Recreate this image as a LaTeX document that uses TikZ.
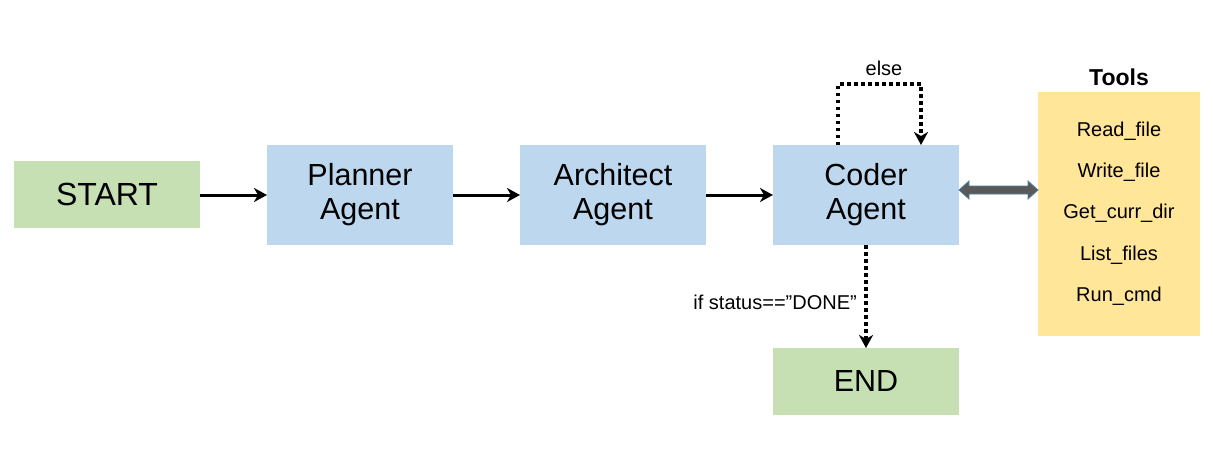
\documentclass[tikz,border=0pt]{standalone}
\usepackage{fontspec}
\setmainfont{Liberation Sans}
\usetikzlibrary{arrows.meta}
\definecolor{gfill}{HTML}{C6E0B4}
\definecolor{bfill}{HTML}{BDD7EE}
\definecolor{yfill}{HTML}{FFE699}
\definecolor{dgray}{HTML}{595959}
\definecolor{steel}{HTML}{4F7FA8}
\tikzset{
  box/.style={inner sep=0pt, align=center, font=\fontsize{30.5}{34}\selectfont},
  flow/.style={line width=3pt, -{Stealth[length=13pt,width=14pt,inset=4pt]}},
  dots/.style={line width=3.2pt, dash pattern=on 3.5pt off 3.5pt, -{Stealth[length=13pt,width=14pt,inset=4pt]}},
  lbl/.style={font=\fontsize{20}{24}\selectfont, inner sep=0pt},
  tool/.style={font=\fontsize{20}{24}\selectfont, inner sep=0pt}
}
\begin{document}
\begin{tikzpicture}[x=1pt,y=-1pt]
\useasboundingbox (0,0) rectangle (1213,474);
\fill[gfill] (14,161) rectangle (200,228);
\node[box, font=\fontsize{32}{36}\selectfont] (start) at (107,194.5) {START};
\fill[bfill] (267,145) rectangle (453,245);
\node[box] (planner) at (360,195) {Planner\\Agent};
\fill[bfill] (520,145) rectangle (706,245);
\node[box] (architect) at (613,195) {Architect\\Agent};
\fill[bfill] (773,145) rectangle (959,245);
\node[box] (coder) at (866,195) {Coder\\Agent};
\fill[gfill] (773,348) rectangle (959,415);
\node[box] (end) at (866,381.5) {END};
\fill[yfill] (1038,92) rectangle (1200,336);
\node[font=\fontsize{23}{27}\selectfont\bfseries, inner sep=0pt] (toolstitle) at (1119,77) {Tools};
\node[tool] (t1) at (1119,131) {Read\_file};
\node[tool] (t2) at (1119,172) {Write\_file};
\node[tool] (t3) at (1119,213) {Get\_curr\_dir};
\node[tool] (t4) at (1119,255) {List\_files};
\node[tool] (t5) at (1119,296) {Run\_cmd};
% named anchors
\coordinate (sE) at (200,195);
\coordinate (pW) at (267,195);
\coordinate (pE) at (453,195);
\coordinate (aW) at (520,195);
\coordinate (aE) at (706,195);
\coordinate (cW) at (773,195);
\coordinate (cTL) at (838,145);
\coordinate (cTR) at (921,145);
\coordinate (cB) at (866,245);
\coordinate (eT) at (866,348);
\coordinate (cE) at (959,190);
\coordinate (tW) at (1038,190);
\draw[flow] (sE) -- (pW);
\draw[flow] (pE) -- (aW);
\draw[flow] (aE) -- (cW);
\draw[dots] (cTL) -- (838,84) -- (921,84) -- (cTR);
\node[lbl] (else) at (884,68) {else};
\draw[dots] (cB) -- (eT);
\node[lbl, anchor=east] (status) at (857,302) {if status==\char"201D DONE\char"201D};
% fat double arrow
\filldraw[fill=dgray, draw=steel, line width=0.8pt]
  (cE) -- ++(10,-9) -- ++(0,5) -- (1028,186) -- ++(0,-5) -- (tW) -- ++(-10,9) -- ++(0,-5)
  -- (969,194) -- ++(0,5) -- cycle;
\end{tikzpicture}
\end{document}
